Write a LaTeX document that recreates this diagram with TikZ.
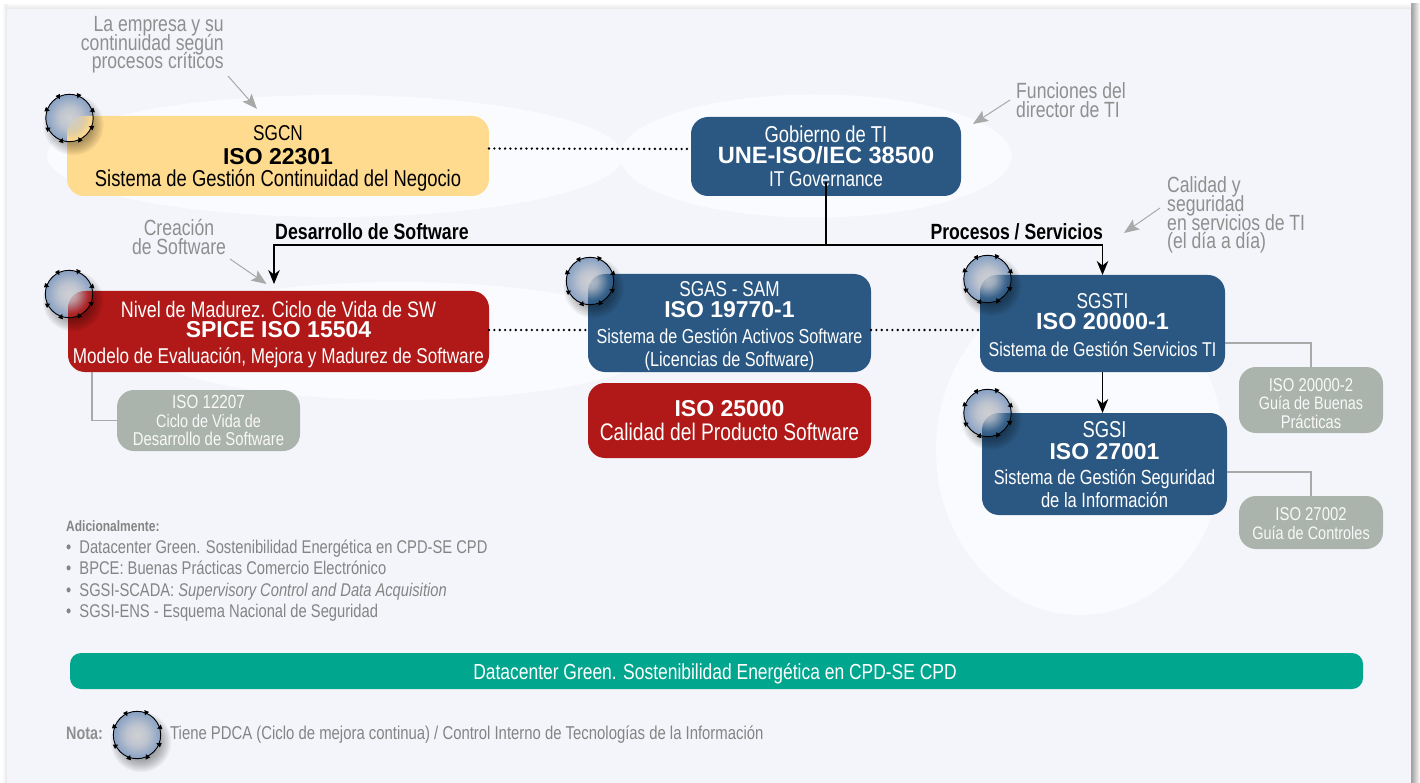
\documentclass[tikz,border=0pt]{standalone}
\usepackage{fontspec}
\usetikzlibrary{arrows.meta,fadings,calc}
\newfontfamily\cf{Liberation Sans}[FakeStretch=0.8]
\newfontfamily\wf{Liberation Sans}
\definecolor{panel}{HTML}{F3F5FA}
\definecolor{glow}{HTML}{FAFBFE}
\definecolor{ink}{HTML}{2B5882}
\definecolor{crimson}{HTML}{B01917}
\definecolor{sand}{HTML}{FFDB8F}
\definecolor{sage}{HTML}{AAB3AC}
\definecolor{teal2}{HTML}{00A68E}
\definecolor{note}{HTML}{8E8F8F}
\definecolor{wire}{HTML}{A8A9A9}
\definecolor{cc}{HTML}{CFD0D3}
\definecolor{cm}{HTML}{BEC4CF}
\definecolor{rr}{HTML}{87A0C3}
\newcommand\tightlines{\lineskiplimit=-100pt\relax}
\pgfdeclareradialshading{pdcafadeshade}{\pgfpointorigin}{color(0bp)=(pgftransparent!85); color(7.5bp)=(pgftransparent!75); color(15bp)=(pgftransparent!40); color(20bp)=(pgftransparent!12); color(25bp)=(pgftransparent!0); color(50bp)=(pgftransparent!0)}
\pgfdeclarefading{pdcafade}{\pgfuseshading{pdcafadeshade}}
\pgfdeclareradialshading{pdcabody}{\pgfpointorigin}{color(0bp)=(cc); color(11bp)=(cm); color(25bp)=(rr); color(50bp)=(rr)}
\newcommand\rowl[3]{\hbox to 0pt{\hss\vbox to #1pt{\vss\hbox{\smash{\cf\fontsize{#2}{#2}\selectfont #3}}}\hss}}
\newcommand\rowb[3]{\hbox to 0pt{\hss\vbox to #1pt{\vss\hbox{\smash{\wf\bfseries\fontsize{#2}{#2}\selectfont #3}}}\hss}}
\newcommand\stk[1]{\vbox{\offinterlineskip #1}}
\newcommand\pdca[3]{%
  \foreach \k in {1,...,9}{\fill[black,opacity=.045] ($(#1,#2)+(4,7)$) circle ({#3+8-\k*1.5});}
  \fill[shading=pdcabody] (#1,#2) circle (#3);
}
\newcommand\pdcaticks[3]{%
  \draw[black,line width=.9pt] (#1,#2) circle (#3);
  \foreach \a in {160,117,68,18,-23,-65,-109,-153}{
    \fill[black,shift={($(#1,#2)+({#3*cos(\a)},{-#3*sin(\a)})$)},rotate=\a+180] (2.6,0) -- (-2.2,2.5) -- (-2.2,-2.5) -- cycle;}
}
\newcommand\tint[5]{% x y r node colour
  \begin{scope}
    \clip (#1,#2) circle (#3);
    \clip[rounded corners=17pt] (#4.south west) rectangle (#4.north east);
    \fill[#5,path fading=pdcafade] (#1,#2) circle (#3);
  \end{scope}
}
\tikzset{
  x=1pt,y=-1pt,
  boxbase/.style={rectangle,rounded corners=17pt,inner sep=0pt,outer sep=0pt},
  bluebox/.style={boxbase,fill=ink,text=white},
  redbox/.style={boxbase,fill=crimson,text=white},
  sandbox/.style={boxbase,fill=sand,text=black},
  sagebox/.style={boxbase,fill=sage,text=white!92!sage},
  linkdots/.style={line width=2.6pt,line cap=round,dash pattern=on 0pt off 5.35pt,black},
  flow/.style={line width=1.1pt,black},
  flowtip/.style={flow,-{Stealth[length=14pt,width=11.5pt,inset=4.5pt]}},
  sidewire/.style={wire,line width=1.5pt},
  pointer/.style={wire,line width=1pt,-{Stealth[length=15pt,width=12pt,inset=3pt]}},
  anno/.style={text=note,inner sep=0pt,font=\cf\fontsize{22}{18.7}\selectfont\tightlines},
}
\begin{document}
\begin{tikzpicture}
\useasboundingbox (0,0) rectangle (1420,783);
\fill[white] (0,0) rectangle (1420,783);
% panel shadow
\shade[left color=black!38,right color=white] (1411,4) rectangle (1420,783);
\shade[top color=white,bottom color=black!10] (5,3) rectangle (1411,9);
\shade[left color=white,right color=black!10] (2,5) rectangle (7,783);
\fill[panel] (7,9) rectangle (1411,783);
% glows
\fill[glow] (335,156) ellipse [x radius=288,y radius=61];
\fill[glow] (815.5,156) ellipse [x radius=196,y radius=61.5];
\fill[glow] (400,341) ellipse [x radius=265,y radius=59];
\fill[glow] (1080,450) ellipse [x radius=144,y radius=165];
% boxes
\node[sandbox,minimum width=422pt,minimum height=80pt] (sgcn) at (278,156) {\stk{\rowl{16}{21.5}{SGCN}\rowb{24}{23}{ISO 22301}\rowl{22}{23}{Sistema de Gestión Continuidad del Negocio}}};
\node[bluebox,minimum width=270pt,minimum height=79pt] (gob) at (826,156.5) {\stk{\rowl{17}{23}{Gobierno de TI}\rowb{21}{23.6}{UNE-ISO/IEC 38500}\rowl{23}{21.5}{IT Governance}}};
\node[redbox,minimum width=421pt,minimum height=81pt] (spice) at (278.5,331.5) {\stk{\rowl{17}{22.4}{Nivel de Madurez. Ciclo de Vida de SW}\rowb{20}{23}{SPICE ISO 15504}\rowl{26}{21.4}{Modelo de Evaluación, Mejora y Madurez de Software}}};
\node[bluebox,minimum width=283pt,minimum height=98pt] (sgas) at (729.5,323) {\stk{\rowl{16}{21.5}{SGAS - SAM}\rowb{21}{23}{ISO 19770-1}\rowl{26}{20.2}{Sistema de Gestión Activos Software}\rowl{23}{20.3}{(Licencias de Software)}}};
\node[redbox,minimum width=283pt,minimum height=75pt] (cal) at (729.5,420.5) {\stk{\rowb{15}{23}{ISO 25000}\rowl{24}{24}{Calidad del Producto Software}}};
\node[bluebox,minimum width=245pt,minimum height=97pt] (sgsti) at (1102.5,323.5) {\stk{\rowl{17}{21.5}{SGSTI}\rowb{21}{23.4}{ISO 20000-1}\rowl{27}{20}{Sistema de Gestión Servicios TI}}};
\node[bluebox,minimum width=245pt,minimum height=102pt] (sgsi) at (1104.5,464) {\stk{\rowl{16}{23}{SGSI}\rowb{22}{23}{ISO 27001}\rowl{25}{20.4}{Sistema de Gestión Seguridad}\rowl{23}{20.7}{de la Información}}};
\node[sagebox,minimum width=183pt,minimum height=61pt] (g12207) at (208.5,420.5) {\stk{\rowl{12}{19}{ISO 12207}\rowl{19}{18}{Ciclo de Vida de}\rowl{18}{18.6}{Desarrollo de Software}}};
\node[sagebox,minimum width=144pt,minimum height=66pt] (g20000) at (1311,400) {\stk{\rowl{19}{18.6}{ISO 20000-2}\rowl{18}{18}{Guía de Buenas}\rowl{19}{18.4}{Prácticas}}};
\node[sagebox,minimum width=144pt,minimum height=53pt] (g27002) at (1311,522.5) {\stk{\rowl{14}{18.6}{ISO 27002}\rowl{19}{18.1}{Guía de Controles}}};
\node[boxbase,fill=teal2,text=white,rounded corners=11pt,minimum width=1293pt,minimum height=36pt] (green) at (716.5,671) {\stk{\rowl{16}{21.8}{Datacenter Green. Sostenibilidad Energética en CPD-SE CPD\hspace{3pt}}}};
% connectors
\draw[linkdots] ([yshift=7.5pt]sgcn.east) -- ([yshift=7.5pt]gob.west);
\draw[linkdots] ([yshift=1.5pt]spice.east) -- ([yshift=-7pt]sgas.west);
\draw[linkdots] ([yshift=-7pt]sgas.east) -- ([yshift=-6.5pt]sgsti.west);
\coordinate (gobin) at (826,182);
\coordinate (bus) at (826,245);
\coordinate (spicein) at (274,284);
\draw[flow] (gobin) -- (bus);
\draw[flowtip] (bus) -| (spicein);
\draw[flowtip] (bus) -| (sgsti.north);
\draw[flowtip] (sgsti.south) -- ([xshift=-2pt]sgsi.north);
\coordinate (c12207) at (92,372);
\draw[sidewire] (c12207) |- (g12207.west);
\coordinate (c20000) at (1225,343);
\draw[sidewire] (c20000) -| (g20000.north);
\coordinate (c27002) at (1227,472);
\draw[sidewire] (c27002) -| (g27002.north);
% annotations
\node[anno,anchor=north east,align=right] (n1) at (224,16) {La empresa y su\\continuidad según\\procesos críticos};
\node[anno,anchor=north,align=center] (n2) at (179,219.5) {Creación\\de Software};
\node[anno,anchor=north west,align=left] (n3) at (1016,82.5) {Funciones del\\director de TI};
\node[anno,anchor=north west,align=left] (n4) at (1167,176.5) {Calidad y\\seguridad\\en servicios de TI\\(el día a día)};
\coordinate (p1a) at (228,76); \coordinate (p1b) at (257,109);
\coordinate (p2a) at (230,259); \coordinate (p2b) at (266.5,284);
\coordinate (p3a) at (1010,100); \coordinate (p3b) at (973,124);
\coordinate (p4a) at (1160,208); \coordinate (p4b) at (1124,233);
\draw[pointer] (p1a) -- (p1b);
\draw[pointer] (p2a) -- (p2b);
\draw[pointer] (p3a) -- (p3b);
\draw[pointer] (p4a) -- (p4b);
\node[inner sep=0pt,anchor=base west,text=black] (lab1) at (275,240) {\cf\bfseries\fontsize{22.2}{20}\selectfont Desarrollo de Software};
\node[inner sep=0pt,anchor=base east,text=black] (lab2) at (1103,240) {\cf\bfseries\fontsize{22}{20}\selectfont Procesos / Servicios};
% lower notes
\node[inner sep=0pt,anchor=north west,align=left,text=note!92!black,font=\cf\fontsize{18.4}{21.5}\selectfont\tightlines] (extras) at (66,520.5) {{\fontsize{15}{21.5}\selectfont\textbf{Adicionalmente:}}\\•\hspace{4pt} Datacenter Green. Sostenibilidad Energética en CPD-SE CPD\\•\hspace{4pt} BPCE: Buenas Prácticas Comercio Electrónico\\•\hspace{4pt} SGSI-SCADA: \textit{Supervisory Control and Data Acquisition}\\•\hspace{4pt} SGSI-ENS - Esquema Nacional de Seguridad};
\node[inner sep=0pt,anchor=base west,text=note] (nota) at (66,739) {\cf\bfseries\fontsize{18}{17}\selectfont Nota:};
\node[inner sep=0pt,anchor=base west,text=note!92!black] (notat) at (170,739) {\cf\fontsize{18.6}{17}\selectfont Tiene PDCA (Ciclo de mejora continua) / Control Interno de Tecnologías de la Información};
% PDCA marks
\pdca{69.5}{118}{23.7}\tint{69.5}{118}{23.7}{sgcn}{sand}\pdcaticks{69.5}{118}{23.7}
\pdca{69}{294}{23.7}\tint{69}{294}{23.7}{spice}{crimson}\pdcaticks{69}{294}{23.7}
\pdca{590}{281}{23.7}\tint{590}{281}{23.7}{sgas}{ink}\pdcaticks{590}{281}{23.7}
\pdca{987.5}{279}{23.7}\tint{987.5}{279}{23.7}{sgsti}{ink}\pdcaticks{987.5}{279}{23.7}
\pdca{987.5}{413}{23.7}\tint{987.5}{413}{23.7}{sgsi}{ink}\pdcaticks{987.5}{413}{23.7}
\pdca{137}{735}{23.7}\pdcaticks{137}{735}{23.7}
\end{tikzpicture}
\end{document}
